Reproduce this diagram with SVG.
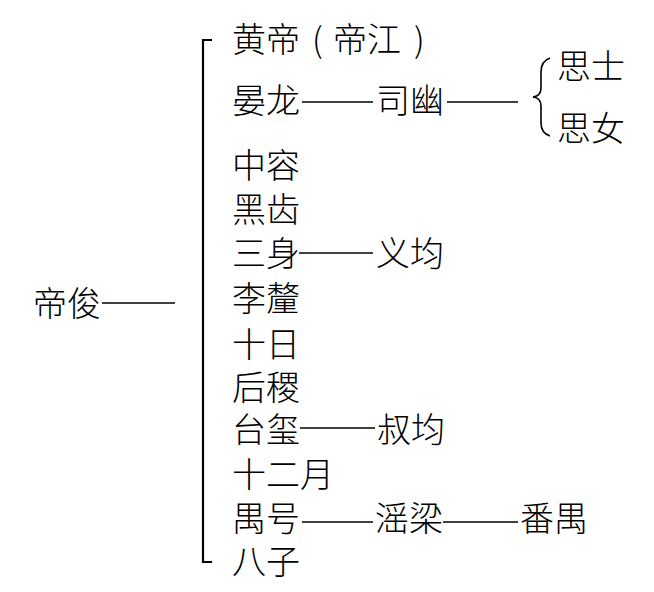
<svg xmlns="http://www.w3.org/2000/svg" width="654" height="592" viewBox="0 0 654 592">
<style>
text{font-family:"Noto Sans CJK SC","Noto Sans CJK TC",sans-serif;font-size:34px;fill:#000;font-weight:300}
.ln{stroke:#000;stroke-width:1.6;fill:none}
.br{stroke:#000;stroke-width:2.2;fill:none}
</style>
<rect width="654" height="592" fill="#fff"/>
<g id="connectors">
<line class="ln" x1="102" y1="303" x2="175" y2="303"/>
<path class="br" d="M212,40 H203 V562 H212"/>
<line class="ln" x1="302" y1="102" x2="373" y2="102"/>
<line class="ln" x1="447" y1="102" x2="518" y2="102"/>
<path class="ln" d="M550,58 Q541,61 541,72 V88 Q541,96 533,97 Q541,98 541,106 V123 Q541,133 550,136"/>
<line class="ln" x1="299" y1="253" x2="373" y2="253"/>
<line class="ln" x1="300" y1="428" x2="375" y2="428"/>
<line class="ln" x1="302" y1="522" x2="373" y2="522"/>
<line class="ln" x1="443" y1="522" x2="518" y2="522"/>
</g>
<g id="dijun"><text x="33" y="316">帝俊</text></g>
<g id="huangdi"><text y="52"><tspan x="232">黄帝</tspan><tspan x="312">(</tspan><tspan x="333">帝江</tspan><tspan x="414">)</tspan></text></g>
<g id="yanlong"><text x="232" y="113">晏龙</text></g>
<g id="siyou"><text x="376" y="113">司幽</text></g>
<g id="sishi"><text x="557" y="79">思士</text></g>
<g id="sinv"><text x="557" y="141">思女</text></g>
<g id="zhongrong"><text x="232" y="178">中容</text></g>
<g id="heichi"><text x="232" y="222">黑齿</text></g>
<g id="sanshen"><text x="232" y="266">三身</text></g>
<g id="yijun"><text x="376" y="266">义均</text></g>
<g id="lili"><text x="232" y="311">李釐</text></g>
<g id="shiri"><text x="232" y="357">十日</text></g>
<g id="houji"><text x="232" y="400">后稷</text></g>
<g id="taixi"><text x="232" y="442">台玺</text></g>
<g id="shujun"><text x="377" y="442">叔均</text></g>
<g id="shieryue"><text x="232" y="487">十二月</text></g>
<g id="yuhao"><text x="232" y="531">禺号</text></g>
<g id="yinliang"><text x="375" y="531">滛梁</text></g>
<g id="fanyu"><text x="520" y="531">番禺</text></g>
<g id="bazi"><text x="232" y="574">八子</text></g>
</svg>
